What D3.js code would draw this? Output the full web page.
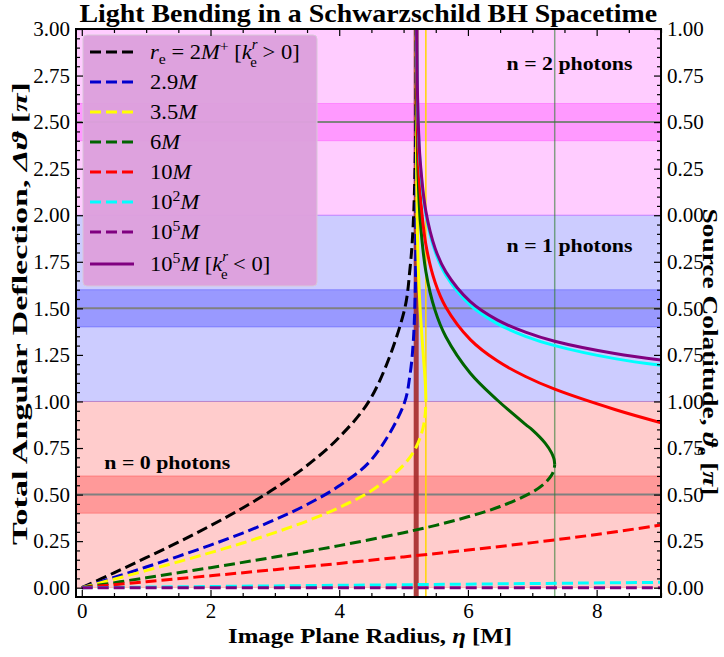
<!DOCTYPE html>
<html>
<head>
<meta charset="utf-8">
<script src="https://cdn.jsdelivr.net/npm/d3@7"></script>
<style>
  body { margin: 0; background: #ffffff; }
  svg text { font-family: "Liberation Serif", "Times New Roman", serif; fill: #000; }
</style>
</head>
<body>
<svg id="chart" width="724" height="657"></svg>
<script>
// ---- axis ticks -------------------------------------------------------
const etaMajor = [0, 2, 4, 6, 8];
const etaMinor = [0.5, 1, 1.5, 2.5, 3, 3.5, 4.5, 5, 5.5, 6.5, 7, 7.5, 8.5, 9];
const defMajor = [0, 0.25, 0.5, 0.75, 1, 1.25, 1.5, 1.75, 2, 2.25, 2.5, 2.75, 3];
const colatLabels = ["0.00","0.25","0.50","0.75","1.00","0.75","0.50","0.25","0.00","0.25","0.50","0.75","1.00"];

// ---- reference marks ----------------------------------------------------
const photonOrders = [0, 1, 2];            // bands [n, n+1]
const bandColors = ["#ff0000", "#0000ff", "#ff00ff"];
const equatorLines = [0.5, 1.5, 2.5];
const bCrit = 5.196;                        // critical impact parameter 3*sqrt(3) M
const bMax35 = 5.3463;                      // largest eta for r_e = 3.5M
const bMax6 = 7.3485;                       // largest eta for r_e = 6M

// ---- deflection curves [eta, total deflection / pi] ----------------------
// emission radius 2M+ (outgoing)
const outHorizon = [[0,0],[0.5,0.0798],[1,0.1609],[1.5,0.2446],[2,0.3328],[2.5,0.4280],[3,0.5336],[3.5,0.656],[4,0.808],[4.5,1.023],[5,1.473],[5.1,1.714],[5.15,1.953],[5.18,2.289],[5.19,2.597],[5.194,2.93],[5.1955,3.31],[5.196,3.775]];
// 2.9M (outgoing)
const out2p9 = [[0,0],[0.5,0.0549],[1,0.1109],[1.5,0.1685],[2,0.2287],[2.5,0.2934],[3,0.3647],[3.5,0.4466],[4,0.547],[4.5,0.687],[5,0.980],[5.1,1.144],[5.15,1.316],[5.18,1.569],[5.19,1.830],[5.194,2.146],[5.1955,2.51],[5.196,2.97],[5.19612,3.45]];
// 3.5M
const out3p5 = [[0,0],[0.5,0.0456],[1,0.0917],[1.5,0.1389],[2,0.1880],[2.5,0.2399],[3,0.2959],[3.5,0.3579],[4,0.4302],[4.5,0.5207],[5,0.6585],[5.2,0.7581],[5.3,0.854],[5.33,0.913],[5.34,0.948],[5.3463,1.0103]];
const in3p5 = [[5.3463,1.0103],[5.34,1.0856],[5.33,1.143],[5.3,1.279],[5.2577,1.490],[5.2256,1.750],[5.2041,2.178],[5.1982,2.609],[5.1965,3.176]];
// 6M
const out6 = [[0,0],[1,0.0532],[2,0.1076],[3,0.1646],[4,0.2260],[5,0.2955],[5.5,0.3347],[6,0.3806],[6.5,0.4359],[7,0.5132],[7.2,0.5628],[7.3,0.6043],[7.33,0.6259],[7.34,0.6373],[7.3485,0.6616]];
const in6 = [[7.3485,0.6616],[7.34,0.6868],[7.33,0.6993],[7.3,0.7241],[7.2,0.7763],[7,0.8473],[6.8946,0.8767],[6.455,1.0078],[6.0374,1.1516],[5.6569,1.3475],[5.4894,1.489],[5.3463,1.698],[5.2577,1.979],[5.2256,2.214],[5.2041,2.628],[5.1982,3.055],[5.1965,3.62]];
// 10M
const out10 = [[0,0],[1,0.0319],[2,0.0640],[3,0.0968],[4,0.1304],[5,0.1654],[6,0.2023],[7,0.2420],[8,0.2858],[9,0.3362]];
const in10 = [[5.1965,3.760],[5.1982,3.194],[5.2041,2.766],[5.2256,2.353],[5.2577,2.120],[5.3463,1.843],[5.4894,1.640],[5.6569,1.506],[6.0374,1.332],[6.455,1.218],[6.8946,1.134],[7.3485,1.066],[8.2825,0.957],[9,0.886]];
// 10^2 M
const out100 = [[0,0],[3,0.0096],[6,0.0191],[9,0.0287]];
const in100 = [[5.1965,3.915],[5.1982,3.349],[5.2041,2.922],[5.2256,2.510],[5.2577,2.278],[5.3463,2.004],[5.4894,1.806],[5.6569,1.678],[6.0374,1.517],[6.455,1.418],[6.8946,1.350],[7.3485,1.300],[8.2825,1.230],[9,1.194]];
// 10^5 M
const out1e5 = [[0,0],[4.5,0.00001],[9,0.00003]];
const in1e5 = [[5.1965,3.932],[5.1982,3.366],[5.2041,2.939],[5.2256,2.527],[5.2577,2.294],[5.3463,2.021],[5.4894,1.823],[5.6569,1.696],[6.0374,1.536],[6.455,1.438],[6.8946,1.372],[7.3485,1.323],[8.2825,1.257],[9,1.222]];

const seriesColors = ["#000000", "#0000cd", "#ffff00", "#006400", "#ff0000", "#00ffff", "#800080"];

// ---- layout ---------------------------------------------------------------
const svg = d3.select("#chart");
const X0 = 76, X1 = 661, Y0 = 29, Y1 = 597;
const x = d3.scaleLinear().domain([-0.09, 9]).range([X0, X1]);
const y = d3.scaleLinear().domain([-0.05, 3]).range([Y1, Y0]);

svg.append("rect").attr("width", 724).attr("height", 657).attr("fill", "#ffffff");

const defs = svg.append("defs");
defs.append("clipPath").attr("id", "plotClip")
  .append("rect").attr("x", X0).attr("y", Y0).attr("width", X1 - X0).attr("height", Y1 - Y0);

const plot = svg.append("g").attr("clip-path", "url(#plotClip)");

// photon-order bands with a darker strip around each equatorial crossing
photonOrders.forEach((n, i) => {
  plot.append("rect")
    .attr("x", X0).attr("width", X1 - X0)
    .attr("y", y(n + 1)).attr("height", y(n) - y(n + 1))
    .attr("fill", bandColors[i]).attr("fill-opacity", 0.2)
    .attr("stroke", bandColors[i]).attr("stroke-opacity", 0.2).attr("stroke-width", 1);
  plot.append("rect")
    .attr("x", X0).attr("width", X1 - X0)
    .attr("y", y(n + 0.6)).attr("height", y(n + 0.4) - y(n + 0.6))
    .attr("fill", bandColors[i]).attr("fill-opacity", 0.25)
    .attr("stroke", bandColors[i]).attr("stroke-opacity", 0.25).attr("stroke-width", 1);
});

equatorLines.forEach(v => {
  plot.append("line")
    .attr("x1", X0).attr("x2", X1).attr("y1", y(v)).attr("y2", y(v))
    .attr("stroke", "#808080").attr("stroke-width", 2);
});

// vertical guides
plot.append("line").attr("x1", x(bMax35)).attr("x2", x(bMax35)).attr("y1", Y0).attr("y2", Y1)
  .attr("stroke", "#ffd700").attr("stroke-width", 1.5);
plot.append("line").attr("x1", x(bMax6)).attr("x2", x(bMax6)).attr("y1", Y0).attr("y2", Y1)
  .attr("stroke", "#2e7d32").attr("stroke-opacity", 0.6).attr("stroke-width", 1.5);
plot.append("line").attr("x1", x(bCrit)).attr("x2", x(bCrit)).attr("y1", Y0).attr("y2", Y1)
  .attr("stroke", "#a52a2a").attr("stroke-opacity", 0.9).attr("stroke-width", 5);

// curves
const line = d3.line()
  .x(d => x(d[0])).y(d => y(d[1]))
  .curve(d3.curveCatmullRom.alpha(0.5));
const DASH = "11,5";

const curves = [
  { data: outHorizon, color: seriesColors[0], dashed: true },
  { data: out2p9, color: seriesColors[1], dashed: true },
  { data: out3p5, color: seriesColors[2], dashed: true },
  { data: in3p5, color: seriesColors[2], dashed: false },
  { data: out6, color: seriesColors[3], dashed: true },
  { data: in6, color: seriesColors[3], dashed: false },
  { data: out10, color: seriesColors[4], dashed: true },
  { data: in10, color: seriesColors[4], dashed: false },
  { data: out100, color: seriesColors[5], dashed: true },
  { data: in100, color: seriesColors[5], dashed: false },
  { data: out1e5, color: seriesColors[6], dashed: true },
  { data: in1e5, color: seriesColors[6], dashed: false }
];
curves.forEach(c => {
  plot.append("path")
    .attr("d", line(c.data))
    .attr("fill", "none")
    .attr("stroke", c.color)
    .attr("stroke-width", 3)
    .attr("stroke-dasharray", c.dashed ? DASH : null);
});

// rich text helper: [text, kind] pairs, kind in "", i, sub, sup, supi, subback
function richText(sel, parts, size) {
  let shift = 0;
  parts.forEach(([t, kind]) => {
    const ts = sel.append("tspan").text(t);
    let target = 0, fs = size;
    if (kind === "i") ts.attr("font-style", "italic");
    if (kind === "sub") { target = size * 0.25; fs = size * 0.7; }
    if (kind === "sup") { target = -size * 0.4; fs = size * 0.7; }
    if (kind === "supi") { target = -size * 0.47; fs = size * 0.66; ts.attr("font-style", "italic"); }
    if (kind === "subback") { target = size * 0.36; fs = size * 0.66; ts.attr("dx", -size * 0.32); }
    ts.attr("font-size", fs);
    if (target - shift !== 0) ts.attr("dy", target - shift);
    shift = target;
  });
}

// photon-order annotations
const annotations = [
  { text: "n = 2 photons", eta: 6.6, val: 2.78 },
  { text: "n = 1 photons", eta: 6.6, val: 1.80 },
  { text: "n = 0 photons", eta: 0.35, val: 0.64 }
];
annotations.forEach(a => {
  const t = svg.append("text")
    .attr("font-size", 18).attr("font-weight", "bold")
    .text(a.text);
  const w = t.node().getComputedTextLength();
  t.attr("transform", `translate(${x(a.eta)},${y(a.val)}) scale(${126 / w},1)`);
});

// legend
const legendRows = [
  { color: seriesColors[0], dashed: true, parts: [["r","i"],["e","sub"],[" = 2",""],["M","i"],["+","sup"],[" [",""],["k","i"],["r","supi"],["e","subback"],[" > 0]",""]] },
  { color: seriesColors[1], dashed: true, parts: [["2.9",""],["M","i"]] },
  { color: seriesColors[2], dashed: true, parts: [["3.5",""],["M","i"]] },
  { color: seriesColors[3], dashed: true, parts: [["6",""],["M","i"]] },
  { color: seriesColors[4], dashed: true, parts: [["10",""],["M","i"]] },
  { color: seriesColors[5], dashed: true, parts: [["10",""],["2","sup"],["M","i"]] },
  { color: seriesColors[6], dashed: true, parts: [["10",""],["5","sup"],["M","i"]] },
  { color: seriesColors[6], dashed: false, parts: [["10",""],["5","sup"],["M","i"],[" [",""],["k","i"],["r","supi"],["e","subback"],[" < 0]",""]] }
];
const legend = svg.append("g");
legend.append("rect")
  .attr("x", 83).attr("y", 35).attr("width", 234).attr("height", 251).attr("rx", 4)
  .attr("fill", "#dda0dd").attr("fill-opacity", 0.97)
  .attr("stroke", "#d8c8d8").attr("stroke-width", 1);
const rowY = [52, 82, 112, 142, 172, 202, 232, 264];
let legendScale = 1;
legendRows.forEach((r, i) => {
  legend.append("line")
    .attr("x1", 90).attr("x2", 134).attr("y1", rowY[i]).attr("y2", rowY[i])
    .attr("stroke", r.color).attr("stroke-width", 3)
    .attr("stroke-dasharray", r.dashed ? DASH : null);
  const t = legend.append("text").attr("font-size", 21)
    .attr("transform", `translate(150,${rowY[i] + 7})`);
  richText(t, r.parts, 21);
  if (i === 0) legendScale = 157 / t.node().getComputedTextLength();
  t.attr("transform", `translate(150,${rowY[i] + 7}) scale(${legendScale},1)`);
});

// ---- axes -----------------------------------------------------------------
const axes = svg.append("g");
function styleAxis(g) {
  g.select(".domain").remove();
  g.selectAll(".tick line").attr("stroke", "#000").attr("stroke-width", 1.2);
  g.selectAll(".tick text").attr("font-size", 21).attr("font-family", "Liberation Serif, serif").attr("fill", "#000");
}
const defMinor = d3.range(0, 3.001, 0.05).filter(v => Math.abs(v * 4 - Math.round(v * 4)) > 1e-6);

axes.append("g").attr("transform", `translate(${X0},0)`)
  .call(d3.axisLeft(y).tickValues(defMajor).tickSize(-7).tickPadding(6).tickFormat(d3.format(".2f")))
  .call(styleAxis);
axes.append("g").attr("transform", `translate(${X0},0)`)
  .call(d3.axisLeft(y).tickValues(defMinor).tickSize(-4).tickFormat(""))
  .call(styleAxis);
axes.append("g").attr("transform", `translate(${X1},0)`)
  .call(d3.axisRight(y).tickValues(defMajor).tickSize(-7).tickPadding(6).tickFormat((d, i) => colatLabels[i]))
  .call(styleAxis);
axes.append("g").attr("transform", `translate(${X1},0)`)
  .call(d3.axisRight(y).tickValues(defMinor).tickSize(-4).tickFormat(""))
  .call(styleAxis);
axes.append("g").attr("transform", `translate(0,${Y1})`)
  .call(d3.axisBottom(x).tickValues(etaMajor).tickSize(-7).tickPadding(6).tickFormat(d3.format("d")))
  .call(styleAxis);
axes.append("g").attr("transform", `translate(0,${Y1})`)
  .call(d3.axisBottom(x).tickValues(etaMinor).tickSize(-4).tickFormat(""))
  .call(styleAxis);
axes.append("g").attr("transform", `translate(0,${Y0})`)
  .call(d3.axisTop(x).tickValues(etaMajor).tickSize(-7).tickFormat(""))
  .call(styleAxis);
axes.append("g").attr("transform", `translate(0,${Y0})`)
  .call(d3.axisTop(x).tickValues(etaMinor).tickSize(-4).tickFormat(""))
  .call(styleAxis);

axes.append("rect")
  .attr("x", X0).attr("y", Y0).attr("width", X1 - X0).attr("height", Y1 - Y0)
  .attr("fill", "none").attr("stroke", "#000").attr("stroke-width", 2);

// ---- titles ---------------------------------------------------------------
function fitted(parts, size, cx, cy, rot, width) {
  const t = svg.append("text").attr("font-size", size).attr("font-weight", "bold")
    .attr("text-anchor", "start");
  richText(t, parts, size);
  const w = t.node().getComputedTextLength();
  const k = width / w;
  t.attr("x", -w / 2);
  t.attr("transform", `translate(${cx},${cy}) rotate(${rot}) scale(${k},1)`);
  return t;
}
fitted([["Light Bending in a Schwarzschild BH Spacetime", ""]], 25, 368.5, 22, 0, 578);
fitted([["Total Angular Deflection, ",""],["\u0394\u03d1","i"],[" [",""],["\u03c0","i"],["]",""]], 21, 27, 313.5, -90, 463);
fitted([["Source Colatitude, ",""],["\u03d1","i"],["e","sub"],[" [",""],["\u03c0","i"],["]",""]], 21, 703, 352, 90, 287);
fitted([["Image Plane Radius, ",""],["\u03b7","i"],[" [M]",""]], 21, 370, 643, 0, 284);
</script>
</body>
</html>
